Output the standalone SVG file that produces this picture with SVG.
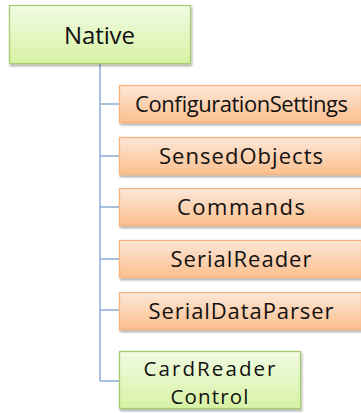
<svg xmlns="http://www.w3.org/2000/svg" width="361" height="413" viewBox="0 0 361 413">
<defs>
<linearGradient id="gG" x1="0" y1="0" x2="0" y2="1">
<stop offset="0" stop-color="#f1fbe3"/>
<stop offset="1" stop-color="#d7f2a4"/>
</linearGradient>
<linearGradient id="gO" x1="0" y1="0" x2="0" y2="1">
<stop offset="0" stop-color="#fde7d7"/>
<stop offset="1" stop-color="#fbbf8f"/>
</linearGradient>
<filter id="sh" x="-10%" y="-10%" width="120%" height="130%">
<feGaussianBlur in="SourceAlpha" stdDeviation="1.2"/>
<feOffset dx="0.5" dy="2" result="b"/>
<feComponentTransfer><feFuncA type="linear" slope="0.35"/></feComponentTransfer>
<feMerge><feMergeNode/><feMergeNode in="SourceGraphic"/></feMerge>
</filter>
</defs>
<style>
.g{fill:url(#gG);stroke:#a9cc72;stroke-width:1.3;filter:url(#sh)}
.o{fill:url(#gO);stroke:#f7b27d;stroke-width:1.3;filter:url(#sh)}
text{font-family:"Open Sans","Noto Sans",sans-serif;fill:#111;text-anchor:middle}
.t{font-size:22px}
.s{font-size:20.5px}
.c{fill:none;stroke:#8eacd6;stroke-width:1.5}
</style>
<g id="connectors">
<path class="c" d="M100 64 V381 M100 104 H120 M100 156 H120 M100 207 H120 M100 259 H120 M100 310 H120 M100 381 H120"/>
</g>
<g id="native">
<rect class="g" x="9.5" y="5.5" width="181" height="58"/>
<text x="99.5" y="44" style="font-size:24px" textLength="71">Native</text>
</g>
<g id="configurationsettings">
<rect class="o" x="119.5" y="85.5" width="242" height="37"/>
<text class="t" x="241.5" y="111.5" textLength="213">ConfigurationSettings</text>
</g>
<g id="sensedobjects">
<rect class="o" x="119.5" y="137.5" width="242" height="37"/>
<text class="t" x="241" y="163.5" textLength="164">SensedObjects</text>
</g>
<g id="commands">
<rect class="o" x="119.5" y="188.5" width="242" height="37"/>
<text class="t" x="241" y="214.5" textLength="128">Commands</text>
</g>
<g id="serialreader">
<rect class="o" x="119.5" y="240.5" width="242" height="37"/>
<text class="t" x="241" y="266.5" textLength="141">SerialReader</text>
</g>
<g id="serialdataparser">
<rect class="o" x="119.5" y="292.5" width="242" height="37"/>
<text class="t" x="241" y="318.5" textLength="185">SerialDataParser</text>
</g>
<g id="cardreadercontrol">
<rect class="g" x="119.5" y="351.5" width="181" height="57"/>
<text class="s" x="209.5" y="376" textLength="132">CardReader</text>
<text class="s" x="209.5" y="404" textLength="78">Control</text>
</g>
</svg>
